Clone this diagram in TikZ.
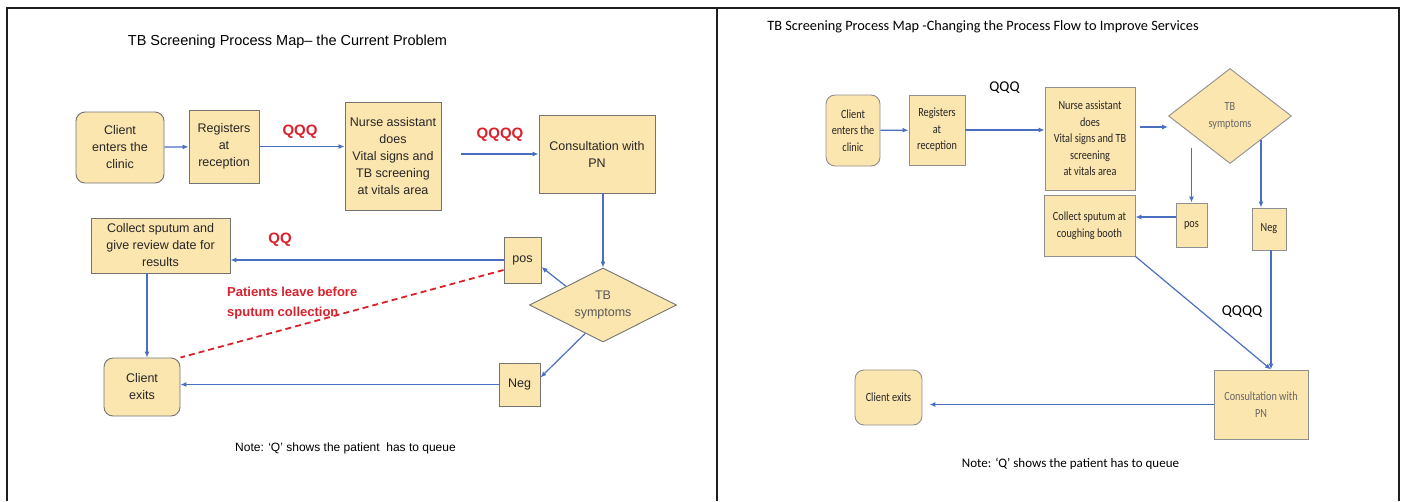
\documentclass[tikz,border=0pt]{standalone}
\usepackage{fontspec}
\setmainfont{Liberation Sans}
\newfontfamily\cali{Carlito}
\newfontfamily\calinar[FakeStretch=0.82]{Carlito}
\usetikzlibrary{shapes.geometric,arrows.meta,positioning}
\definecolor{boxfill}{HTML}{FCE6B0}
\definecolor{boxline}{HTML}{737373}
\definecolor{flow}{HTML}{4A6FC0}
\definecolor{qred}{HTML}{D9212C}
\definecolor{framecol}{HTML}{1E1E1E}

\begin{document}
\begin{tikzpicture}[x=1pt, y=-1pt,
  box/.style={draw=boxline, fill=boxfill, line width=0.9pt, inner sep=0pt, align=center, text=black!85, font=\fontsize{12.5}{17}\selectfont},
  client/.style={box, rounded corners=9pt},
  dec/.style={box, diamond, aspect=2, text=black!65},
  rbox/.style={box, draw=boxline!80, font=\calinar\fontsize{12.5}{16.5}\selectfont},
  rclient/.style={rbox, rounded corners=9pt},
  rdec/.style={rbox, diamond, aspect=1.3, text=black!60},
  heading/.style={inner sep=0pt, font=\fontsize{14.5}{17}\selectfont},
  rheading/.style={inner sep=0pt, font=\cali\fontsize{14.3}{17}\selectfont},
  notetext/.style={inner sep=0pt, font=\fontsize{12}{14}\selectfont},
  rnotetext/.style={inner sep=0pt, font=\cali\fontsize{13}{16}\selectfont},
  qq/.style={inner sep=0pt, text=qred, font=\bfseries\fontsize{15}{18}\selectfont},
  rqq/.style={inner sep=0pt, font=\cali\fontsize{15}{18}\selectfont},
  warn/.style={inner sep=0pt, align=left, text=qred, font=\bfseries\fontsize{13}{20}\selectfont},
  flowarr/.style={draw=flow, line width=1.2pt, -{Latex[length=6pt,width=5pt]}}]
\useasboundingbox (0,0) rectangle (1405,501);
\draw[framecol, line width=2.4pt] (7,501) -- (7,8) -- (1399,8) -- (1399,501);
\draw[framecol, line width=2.4pt] (717,8) -- (717,501);

\node[heading] (ltitle) at (287.5,42) {TB Screening Process Map– the Current Problem};
\node[client, minimum width=88, minimum height=71] (cin) at (120,147.5) {Client\\enters the\\clinic};
\node[box, minimum width=70, minimum height=73] (reg) at (224,146.5) {Registers\\at\\reception};
\node[box, minimum width=96, minimum height=108] (nur) at (393,156) {Nurse assistant\\does\\Vital signs and\\TB screening\\at vitals area};
\node[box, minimum width=116, minimum height=78] (con) at (597,154) {Consultation with\\PN};
\node[box, minimum width=139, minimum height=55] (col) at (160.5,245.5) {Collect sputum and\\give review date for\\results};
\node[box, minimum width=37, minimum height=46] (pos) at (522.5,260) {pos};
\node[dec, minimum width=147, minimum height=74] (dia) at (603,305) {TB\\symptoms};
\node[box, minimum width=41, minimum height=43] (neg) at (519.5,384.5) {Neg};
\node[client, minimum width=76, minimum height=58] (cex) at (142,387) {Client\\exits};
\node[qq] (q3) at (300,132) {QQQ};
\node[qq] (q4) at (500,135) {QQQQ};
\node[qq] (q2) at (280,240) {QQ};
\node[warn, anchor=west] (leave) at (227,303) {Patients leave before\\sputum collection};
\node[notetext] (lnote) at (345.5,448) {Note: ‘Q’ shows the patient \ has to queue};
\draw[flowarr] (cin) -- (reg);
\draw[flowarr] (reg.east) -- (reg.east -| nur.west);
\draw[flowarr] ([xshift=20pt]nur.east |- con.west) -- (con.west);
\draw[flowarr] (dia.north |- con.south) -- (dia.north);
\draw[flowarr] (dia.north west) -- ([yshift=-7pt]pos.east);
\draw[flowarr] (dia.238) -- ([yshift=7pt]neg.east);
\draw[flowarr] (pos.west) -- (pos.west -| col.east);
\draw[flowarr] (neg.west) -- (neg.west -| cex.east);
\draw[flowarr] ([xshift=5pt]cex.north |- col.south) -- ([xshift=5pt]cex.north);
\draw[qred, line width=1.8pt, dash pattern=on 6pt off 4pt] ([yshift=-10pt]pos.west) -- (cex.north east);

\node[rheading] (rtitle) at (983,27) {TB Screening Process Map -Changing the Process Flow to Improve Services};
\node[rclient, minimum width=54, minimum height=71] (rcin) at (853,130.5) {Client\\enters the\\clinic};
\node[rbox, minimum width=56, minimum height=70] (rreg) at (937,130) {Registers\\at\\reception};
\node[rbox, minimum width=90, minimum height=103] (rnur) at (1090,138.5) {Nurse assistant\\does\\Vital signs and TB\\screening\\at vitals area};
\node[rdec, minimum width=123, minimum height=95] (rdia) at (1230,116) {TB\\symptoms};
\node[rbox, minimum width=31, minimum height=44] (rpos) at (1191.5,225) {pos};
\node[rbox, minimum width=34, minimum height=42] (rneg) at (1269,229) {Neg};
\node[rbox, minimum width=91, minimum height=61] (rcol) at (1089.5,225.5) {Collect sputum at\\coughing booth};
\node[rbox, minimum width=94, minimum height=69, text=black!60] (rcon) at (1261,404.5) {Consultation with\\PN};
\node[rclient, minimum width=67, minimum height=55] (rcex) at (888.5,397.5) {Client exits};
\node[rqq] (rq3) at (1004.5,88) {QQQ};
\node[rqq] (rq4) at (1242,312) {QQQQ};
\node[rnotetext] (rnote) at (1070.5,464) {Note: ‘Q’ shows the patient has to queue};
\coordinate (rin) at ([yshift=-11pt]rdia.west);
\coordinate (rtop) at ([xshift=10pt]rcon.north);
\draw[flowarr] (rcin) -- (rreg);
\draw[flowarr] (rreg.east) -- (rreg.east -| rnur.west);
\draw[flowarr] ([xshift=5pt]rnur.east |- rin) -- (rin);
\draw[flowarr] ([yshift=55pt]rpos.north) -- (rpos.north);
\draw[flowarr] (rdia.south east) -- (rdia.south east |- rneg.north);
\draw[flowarr] ([yshift=8pt]rpos.west) -- ([yshift=8pt]rpos.west -| rcol.east);
\draw[flowarr] (rcol.south east) -- (rtop);
\draw[flowarr] (rneg.south -| rtop) -- (rtop);
\draw[flowarr, shorten >=7pt] (rcon.west) -- (rcon.west -| rcex.east);
\end{tikzpicture}
\end{document}
